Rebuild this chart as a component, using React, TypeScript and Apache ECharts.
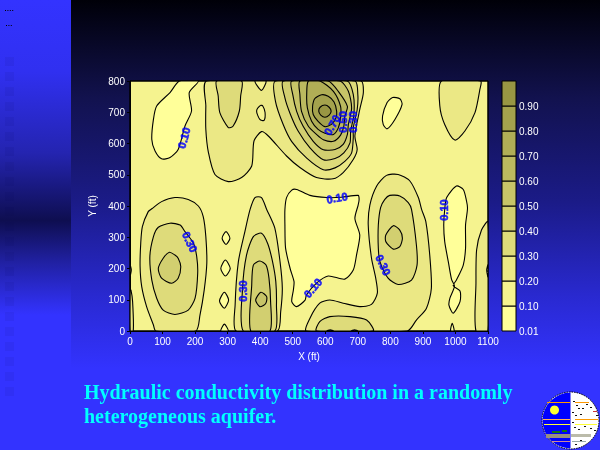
import React, { useEffect, useRef } from "react";
import * as echarts from "echarts";

const xTicksMax = 1100;
const yTicksMax = 800;
const barLabels = ["0.01", "0.10", "0.20", "0.30", "0.40", "0.50", "0.60", "0.70", "0.80", "0.90", ""];
const bandColors = ["#FFFF99", "#F5F38F", "#EBE885", "#DEDB7A", "#D2CF70", "#C7C468", "#BBB95F", "#B0AE56", "#A4A24D", "#989643"];

// contour outlines, [X ft, Y ft], level = index of the band colour inside
const tongueLow = [[152,800],[123,763],[82,720],[72,677],[67,613],[77,576],[97,551],[123,555],[148,581],[169,656],[189,704],[182,763],[210,800]];
const islandTopRight = [[807,747],[790,731],[776,688],[778,661],[790,647],[814,677],[836,725],[829,743]];
const centralLow = [[476,389],[481,427],[497,451],[512,453],[553,434],[604,427],[650,428],[701,434],[704,421],[701,403],[691,360],[706,307],[696,243],[686,195],[660,166],[609,176],[573,153],[542,115],[538,99],[512,78],[497,94],[502,131],[504,158],[492,200],[478,265],[476,339]];
const smallLowA = [[295,318],[283,297],[295,277],[307,297]];
const smallLowB = [[293,227],[279,200],[293,176],[308,200]];
const smallLowC = [[290,124],[275,96],[290,73],[303,99]];
const smallLowD = [[290,22],[279,0],[302,0]];
const stripLow = [[1003,464],[973,427],[967,389],[964,339],[967,286],[978,222],[988,165],[997,143],[983,105],[980,83],[993,57],[1014,94],[1014,128],[993,145],[1003,163],[1024,211],[1031,265],[1031,339],[1037,392],[1034,416],[1024,453]];
const stripFoot = [[990,25],[985,0],[996,0]];

const ridgeTop20 = [[236,800],[233,720],[233,645],[241,571],[261,501],[302,478],[343,491],[374,528],[381,608],[404,638],[425,624],[481,560],[522,523],[573,491],[624,487],[655,507],[686,549],[698,581],[691,624],[706,709],[717,763],[709,800]];
const topRight20 = [[957,800],[952,720],[967,661],[998,611],[1029,640],[1060,699],[1075,773],[1077,800]];
const leftBlob20 = [[67,391],[97,414],[138,427],[179,421],[210,400],[225,366],[233,302],[236,217],[228,131],[215,51],[202,0],[79,0],[72,19],[51,78],[36,142],[31,206],[33,281],[38,334],[56,382]];
const midRidge20 = [[369,389],[384,427],[404,427],[420,389],[445,329],[461,222],[468,137],[463,62],[453,0],[326,0],[323,83],[333,222],[353,318]];
const rightBlob20 = [[542,0],[553,41],[583,89],[614,99],[655,89],[706,78],[742,85],[760,121],[755,169],[742,233],[732,339],[737,403],[758,464],[788,498],[824,501],[860,480],[886,427],[896,389],[909,350],[921,243],[926,137],[911,73],[880,35],[852,0]];
const rightBand20 = [[1100,350],[1080,323],[1065,259],[1063,153],[1063,0],[1100,0]];
const cornerSliver = [[0,131],[3,131],[8,94],[10,0],[0,0]];
const notchTop = [[384,800],[404,770],[418,800]];
const holeTop = [[401,722],[389,704],[399,677],[412,674],[415,699],[408,720]];

const lobeTop30 = [[266,800],[271,752],[276,699],[302,651],[317,656],[336,704],[340,752],[343,800]];
const leftBlob30 = [[123,345],[87,332],[72,302],[61,238],[67,163],[82,105],[102,67],[138,53],[179,67],[200,105],[208,185],[205,238],[195,281],[169,318],[154,339]];
const midRidge30 = [[404,313],[379,302],[358,243],[346,137],[348,0],[445,0],[450,83],[448,158],[438,222],[423,280]];
const rightBlob30 = [[783,421],[798,434],[829,432],[855,411],[865,389],[880,275],[882,211],[865,163],[824,149],[793,169],[768,222],[763,265],[763,339],[770,395]];
const bottom30 = [[573,0],[583,30],[614,46],[676,46],[727,35],[747,0]];
const rightEdge30 = [[1100,212],[1096,195],[1100,173]];
const leftEdge30 = [[0,212],[4,195],[0,175]];

const leftBlob40 = [[121,252],[102,233],[87,200],[97,169],[128,153],[148,169],[156,206],[148,233],[138,243]];
const midRidge40 = [[399,224],[379,211],[374,147],[371,0],[430,0],[432,94],[427,169],[418,211]];
const rightBlob40 = [[809,337],[786,307],[786,286],[809,262],[829,270],[837,297],[829,323]];
const bottomBumpA = [[605,0],[615,4],[625,0]];
const bottomBumpB = [[680,0],[690,4],[700,0]];
const midRidge50 = [[402,124],[386,99],[399,78],[417,88],[420,110]];

const peak30 = [[447,800],[447,735],[471,660],[497,606],[543,553],[594,516],[630,522],[660,543],[681,570],[686,618],[686,650],[698,708],[700,757],[691,800]];
const peak40 = [[471,800],[476,746],[493,693],[517,639],[553,586],[594,548],[630,552],[657,570],[676,602],[678,639],[688,693],[686,757],[667,800]];
const peak50 = [[497,800],[500,757],[512,703],[532,655],[563,607],[594,580],[630,581],[655,597],[668,629],[671,661],[681,714],[671,767],[645,800]];
const peak60 = [[522,800],[522,757],[527,703],[548,655],[573,629],[594,612],[625,607],[647,627],[657,655],[660,687],[668,719],[640,767],[609,800]];
const peak70 = [[548,800],[543,757],[545,714],[558,671],[578,645],[599,633],[625,629],[640,650],[647,682],[647,719],[625,767],[584,800]];
const peak80 = [[589,756],[568,744],[561,719],[563,693],[578,671],[599,654],[619,661],[633,682],[635,703],[627,733],[609,751]];
const peak90 = [[599,723],[584,716],[580,703],[586,691],[599,684],[612,691],[618,703],[612,716]];

const contourBands: [number, number[][]][] = [
  [0, tongueLow], [0, islandTopRight], [0, centralLow], [0, smallLowA], [0, smallLowB], [0, smallLowC], [0, smallLowD], [0, stripLow], [0, stripFoot],
  [2, ridgeTop20], [2, topRight20], [2, leftBlob20], [2, midRidge20], [2, rightBlob20], [2, rightBand20], [2, cornerSliver],
  [1, notchTop], [1, holeTop],
  [3, lobeTop30], [3, leftBlob30], [3, midRidge30], [3, rightBlob30], [3, bottom30], [3, rightEdge30], [3, leftEdge30],
  [4, leftBlob40], [4, midRidge40], [4, rightBlob40], [4, bottomBumpA], [4, bottomBumpB], [5, midRidge50],
  [3, peak30], [4, peak40], [5, peak50], [6, peak60], [7, peak70], [8, peak80], [9, peak90],
];

const labelPoints = [[166,618],[636,426],[965,387],[184,285],[347,128],[562,138],[778,211],[621,659],[655,669],[685,669]];
const labelTexts = ["0.10","0.10","0.10","0.30","0.30","0.10","0.30","0.70","0.50","0.30"];
const labelAngles = [75,10,90,-65,90,50,-65,60,90,90];

const titleText = "Hydraulic conductivity distribution in a randomly\nheterogeneous aquifer.";

function decorations() {
  const items: any[] = [
    { type: "rect", z: -20, silent: true, shape: { x: 0, y: 0, width: 600, height: 450 },
      style: { fill: new echarts.graphic.LinearGradient(0, 0, 0, 1, [
        { offset: 0, color: "#000008" }, { offset: 0.22, color: "#12124F" }, { offset: 0.45, color: "#1B1B88" },
        { offset: 0.67, color: "#2A2AD4" }, { offset: 0.82, color: "#3333FF" }, { offset: 1, color: "#3333FF" }]) } },
    { type: "rect", z: -19, silent: true, shape: { x: 0, y: 0, width: 71, height: 450 },
      style: { fill: new echarts.graphic.LinearGradient(0, 0, 0, 1, [
        { offset: 0, color: "#3333FF" }, { offset: 0.16, color: "#3030F0" }, { offset: 0.34, color: "#2424B0" },
        { offset: 0.49, color: "#0E0E50" }, { offset: 0.58, color: "#2020A0" }, { offset: 0.7, color: "#3333FF" }, { offset: 1, color: "#3333FF" }]) } },
  ];
  for (let i = 0; i < 23; i++) {
    items.push({ type: "rect", z: -18, silent: true, shape: { x: 5, y: 57 + i * 15, width: 9, height: 9 },
      style: { fill: "#000040", opacity: 0.06 } });
  }
  for (const [x0, y0, n] of [[5, 10, 4], [6, 25, 3]]) {
    for (let i = 0; i < n; i++) {
      items.push({ type: "rect", z: -17, silent: true, shape: { x: x0 + i * 2.4, y: y0, width: 1, height: 1 }, style: { fill: "#000000" } });
    }
  }
  const cx = 570.5, cy = 420.5, r = 28.5;
  items.push({ type: "circle", z: 5, silent: true, shape: { cx, cy, r }, style: { fill: "#FFFFFF", stroke: "#000000", lineWidth: 1, lineDash: [1.5, 1] } });
  items.push({ type: "sector", z: 6, silent: true, shape: { cx, cy, r: r - 0.5, r0: 0, startAngle: Math.PI / 2, endAngle: (Math.PI * 3) / 2 }, style: { fill: "#0000FF" } });
  items.push({ type: "circle", z: 7, silent: true, shape: { cx: 554.5, cy: 410, r: 4.5 }, style: { fill: "#FFFF33" } });
  const stripes = [
    [547, 402, 23, 1, "#FF9900"], [575, 402, 14, 1, "#FF9900"], [543, 419, 27, 1, "#FFB060"], [575, 419, 23, 1, "#FF9900"],
    [544, 424, 26, 1, "#FFFF33"], [575, 424, 22, 1, "#FFFF33"], [593, 411, 4, 1, "#CC3333"],
    [546, 434, 24, 4, "#998F80"], [552, 431, 8, 2, "#117711"], [562, 430, 5, 2, "#117711"],
    [571, 434, 20, 3, "#BBBBAA"], [552, 441, 18, 1, "#CC8899"], [572, 441, 14, 1, "#99AAAA"],
  ];
  for (const [x, y, w, h, c] of stripes as any[]) {
    items.push({ type: "rect", z: 8, silent: true, shape: { x, y, width: w, height: h }, style: { fill: c } });
  }
  const specks = [[573,401],[576,405],[578,408],[572,412],[582,408],[586,404],[590,407],[575,415],[580,414],[572,422],[574,427],[578,429],[590,428],[584,426],[575,444],[580,440],[596,415],[594,430]];
  for (const [x, y] of specks) {
    items.push({ type: "rect", z: 9, silent: true, shape: { x, y, width: 2, height: 1 }, style: { fill: "#111111" } });
  }
  return items;
}

export default function App() {
  const ref = useRef<HTMLDivElement>(null);
  useEffect(() => {
    document.body.style.margin = "0";
    const chart = echarts.init(ref.current!, undefined, { renderer: "svg" });
    const axisText = { color: "#FFFFFF", fontFamily: "Liberation Sans", fontSize: 10 };
    const axisLine = { show: true, onZero: false, lineStyle: { color: "#000000", width: 1 } };
    const axisTick = { show: true, length: 3, lineStyle: { color: "#000000" } };
    const frame = [[0, 0], [xTicksMax, 0], [xTicksMax, yTicksMax], [0, yTicksMax]];
    chart.setOption({
      animation: false,
      backgroundColor: "transparent",
      title: {
        text: titleText, left: 84, top: 380, padding: 0,
        textStyle: { color: "#00FFFF", fontFamily: "Liberation Serif", fontWeight: "bold", fontSize: 20, lineHeight: 24,
          textShadowColor: "#000044", textShadowOffsetX: 1, textShadowOffsetY: 1, textShadowBlur: 0 },
      },
      graphic: decorations(),
      grid: [
        { left: 130, top: 81, width: 358, height: 250, show: true, backgroundColor: bandColors[1], borderColor: "#000000", borderWidth: 1 },
        { left: 502, top: 81, width: 14, height: 250 },
      ],
      xAxis: [
        { type: "value", gridIndex: 0, min: 0, max: xTicksMax, interval: 100, splitLine: { show: false }, axisLine, axisTick,
          axisLabel: { ...axisText, margin: 5, formatter: (v: number) => String(v) }, name: "X (ft)", nameLocation: "middle", nameGap: 20, nameTextStyle: axisText },
        { type: "value", gridIndex: 1, min: 0, max: 1, show: false },
      ],
      yAxis: [
        { type: "value", gridIndex: 0, min: 0, max: yTicksMax, interval: 100, splitLine: { show: false }, axisLine, axisTick,
          axisLabel: { ...axisText, margin: 5 }, name: "Y (ft)", nameLocation: "middle", nameGap: 23, nameTextStyle: axisText },
        { type: "value", gridIndex: 1, min: 0, max: 10, interval: 1, position: "right", splitLine: { show: false },
          axisLine: { show: false }, axisTick: { show: false },
          axisLabel: { ...axisText, margin: 3, formatter: (v: number) => barLabels[Math.round(v)] } },
      ],
      series: [
        {
          type: "custom", xAxisIndex: 0, yAxisIndex: 0, clip: true, z: 2,
          data: contourBands.map((_, i) => [i]),
          renderItem: (params: any, api: any) => {
            const [band, pts] = contourBands[params.dataIndex];
            return {
              type: "polygon",
              shape: { points: pts.map((p) => api.coord(p)), smooth: 0.25 },
              style: { fill: bandColors[band], stroke: "#000000", lineWidth: 1.1 },
            };
          },
        },
        {
          type: "custom", xAxisIndex: 0, yAxisIndex: 0, clip: false, z: 3, silent: true,
          data: [[0]],
          renderItem: (_: any, api: any) => ({
            type: "polygon",
            shape: { points: frame.map((p) => api.coord(p)) },
            style: { fill: "none", stroke: "#000000", lineWidth: 1 },
          }),
        },
        {
          type: "scatter", xAxisIndex: 0, yAxisIndex: 0, z: 4, symbolSize: 1, itemStyle: { color: "transparent" },
          data: labelPoints.map((p, i) => ({
            value: p,
            label: { show: true, position: "inside", formatter: labelTexts[i], rotate: labelAngles[i],
              color: "#0000FF", fontFamily: "Liberation Sans", fontWeight: "bold", fontSize: 11,
              textBorderColor: "#0000FF", textBorderWidth: 0.6 },
          })),
        },
        {
          type: "custom", xAxisIndex: 1, yAxisIndex: 1, clip: false, z: 2,
          data: bandColors.map((_, i) => [i]),
          renderItem: (params: any, api: any) => {
            const i = params.dataIndex;
            const a = api.coord([0, i]);
            const b = api.coord([1, i + 1]);
            return {
              type: "rect",
              shape: { x: a[0], y: b[1], width: b[0] - a[0], height: a[1] - b[1] },
              style: { fill: bandColors[i], stroke: "#000000", lineWidth: 1 },
            };
          },
        },
      ],
    });
    return () => chart.dispose();
  }, []);
  return <div ref={ref} style={{ position: "fixed", left: 0, top: 0, width: 600, height: 450 }} />;
}
